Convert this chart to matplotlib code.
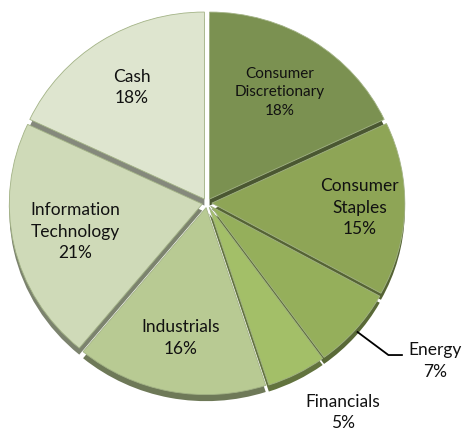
import numpy as np
import matplotlib.pyplot as plt
import matplotlib.colors as mcolors

sectors = ['Consumer\nDiscretionary', 'Consumer\nStaples', 'Energy', 'Financials',
           'Industrials', 'Information\nTechnology', 'Cash']
weights = [18, 15, 7, 5, 16, 21, 18]
colors = ['#7b9151', '#8ea556', '#95af5b', '#a3bf68', '#b8ca93', '#cfdab8', '#dee5cf']

# label distance along slice middle (fraction of radius); None = placed outside
label_r = [0.70, 0.79, None, None, 0.735, 0.70, 0.73]
label_size = [11, 12.5, 12.5, 12.5, 12.5, 12.5, 12.5]

W, H = 465, 430
cx, cy = 207.0, 203.0     # pie centre, px from top-left
rx, ry = 193.0, 187.0     # slightly flattened (tilted pie)

fig = plt.figure(figsize=(W / 100, H / 100), dpi=100)
ax = fig.add_axes([0, 0, 1, 1])

explode = [0.025] * len(weights)

# slice "thickness": darker copy shifted down
dark = [tuple(np.array(mcolors.to_rgb(c)) * 0.6) for c in colors]
shadow, _ = ax.pie(weights, colors=dark, startangle=90, counterclock=False,
                   explode=explode, center=(0, -0.035), radius=1.0,
                   wedgeprops=dict(linewidth=0))
for w in shadow:
    w.set_zorder(1)

wedges, _ = ax.pie(weights, colors=colors, startangle=90, counterclock=False,
                   explode=explode, radius=1.0,
                   wedgeprops=dict(linewidth=0.6, edgecolor='#a3b386'))
for w in wedges:
    w.set_zorder(2)

ax.set_aspect('auto')
ax.set_xlim(-cx / rx, (W - cx) / rx)
ax.set_ylim(-(H - cy) / ry, cy / ry)
ax.axis('off')

font = dict(family=['Lato', 'DejaVu Sans'], color='#111111',
            ha='center', va='center', linespacing=1.4, zorder=4)

for w, name, val, lr, fs in zip(wedges, sectors, weights, label_r, label_size):
    if lr is None:
        continue
    mid = np.deg2rad((w.theta1 + w.theta2) / 2)
    ax.text(lr * np.cos(mid), lr * np.sin(mid), f'{name}\n{val}%', fontsize=fs, **font)

# energy: leader line and outside label
ax.plot([0.78, 0.94, 1.01], [-0.69, -0.813, -0.813], color='black', lw=1.3, zorder=3)
ax.text(1.18, -0.845, f'{sectors[2]}\n{weights[2]}%', fontsize=label_size[2], **font)

# financials: label below the pie
ax.text(0.705, -1.12, f'{sectors[3]}\n{weights[3]}%', fontsize=label_size[3], **font)

fig.savefig('out.png', dpi=100)
